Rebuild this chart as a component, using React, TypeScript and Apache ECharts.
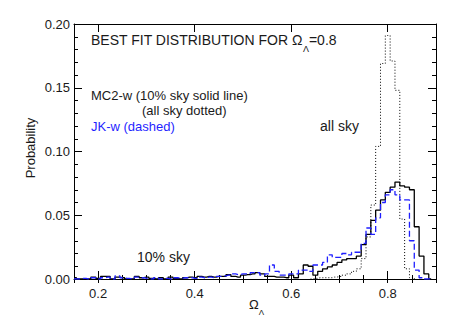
import React, { useEffect, useRef } from "react";
import * as echarts from "echarts";

// Bin centres of the histograms (step width 0.01)
const binStart = 0.15;
const binWidth = 0.01;

// MC2-w, 10% sky (solid), bins 0.15 ... 0.89
const mc2TenPct = [
  0.001, 0, 0, 0, 0.0015, 0.0005, 0.002, 0.002, 0, 0.0015,
  0.001, 0, 0, 0.002, 0.001, 0.0015, 0.0005, 0, 0.001, 0,
  0.0015, 0.0005, 0, 0.001, 0.0015, 0.001, 0.002, 0.0015, 0.002, 0.0015,
  0.002, 0.002, 0.0035, 0.002, 0.0015, 0.003, 0.0035, 0.004, 0.005, 0.004,
  0.002, 0.002, 0.0015, 0.0015, 0.001, 0.003, 0.001, 0.004, 0.011, 0.010,
  0.003, 0.006, 0.008, 0.0095, 0.011, 0.013, 0.015, 0.016, 0.016, 0.018,
  0.027, 0.035, 0.046, 0.054, 0.062, 0.068, 0.072, 0.076, 0.073, 0.072,
  0.070, 0.041, 0.018, 0.004, 0,
];

// JK-w (dashed), bins 0.15 ... 0.89
const jkDashed = [
  0, 0, 0.0005, 0, 0.001, 0, 0.001, 0.0015, 0, 0.0025,
  0.001, 0.0005, 0, 0.0015, 0.001, 0.0005, 0, 0.001, 0, 0.0005,
  0, 0.001, 0.0005, 0.001, 0.001, 0.0005, 0.0015, 0.001, 0.0015, 0.001,
  0.002, 0.0025, 0.003, 0.004, 0.0035, 0.004, 0.004, 0.005, 0.005, 0.003,
  0.004, 0.011, 0.006, 0.003, 0.003, 0.004, 0.004, 0.007, 0.007, 0.006,
  0.011, 0.011, 0.013, 0.019, 0.017, 0.017, 0.020, 0.019, 0.021, 0.021,
  0.028, 0.040, 0.035, 0.048, 0.060, 0.066, 0.070, 0.066, 0.062, 0.062,
  0.030, 0.007, 0.001, 0, 0,
];

// MC2-w, all sky (dotted), bins 0.64 ... 0.86
const allSkyStart = 0.64;
const mc2AllSky = [
  0, 0.0005, 0.001, 0.001, 0.001, 0.0015, 0.002, 0.003, 0.004, 0.006,
  0.008, 0.016, 0.033, 0.058, 0.104, 0.169, 0.191, 0.171, 0.148, 0.047,
  0.008, 0.001, 0,
];

const xMajorTicks = [0.2, 0.4, 0.6, 0.8];
const xRange = [0.15, 0.9];
const yRange = [0, 0.2];
const yInterval = 0.05;

const FONT = "Liberation Sans, Arial, sans-serif";
const INK = "#1a1a1a";

function toPairs(start: number, values: number[]) {
  return values.map((v, i) => [Math.round((start + i * binWidth) * 1000) / 1000, v]);
}

export default function App() {
  const ref = useRef<HTMLDivElement>(null);

  useEffect(() => {
    document.body.style.margin = "0";
    const chart = echarts.init(ref.current!, null, { renderer: "svg" });

    const axisLine = { show: true, onZero: false, lineStyle: { color: "#000", width: 1 } };
    const baseX = {
      type: "value",
      min: xRange[0],
      max: xRange[1],
      splitLine: { show: false },
      axisLine,
    };
    const baseY = {
      type: "value",
      min: yRange[0],
      max: yRange[1],
      interval: yInterval,
      splitLine: { show: false },
      axisLine,
      minorTick: { show: true, splitNumber: 5, length: 4, lineStyle: { color: "#000" } },
      minorSplitLine: { show: false },
      axisTick: { show: true, inside: true, length: 8, lineStyle: { color: "#000" } },
    };

    chart.setOption({
      animation: false,
      backgroundColor: "#fff",
      grid: { left: 74, top: 24, width: 362, height: 255, containLabel: false },
      xAxis: [
        {
          ...baseX,
          position: "bottom",
          axisTick: { show: true, inside: true, length: 8, customValues: xMajorTicks, lineStyle: { color: "#000" } },
          axisLabel: {
            show: true,
            customValues: xMajorTicks,
            formatter: (v: number) => v.toFixed(1),
            margin: 8,
            fontFamily: FONT,
            fontSize: 13,
            color: INK,
          },
        },
        {
          ...baseX,
          position: "bottom",
          interval: 0.05,
          axisLine: { show: false },
          axisTick: { show: true, inside: true, length: 4, lineStyle: { color: "#000" } },
          axisLabel: { show: false },
        },
        {
          ...baseX,
          position: "top",
          axisTick: { show: true, inside: true, length: 8, customValues: xMajorTicks, lineStyle: { color: "#000" } },
          axisLabel: { show: false },
        },
        {
          ...baseX,
          position: "top",
          interval: 0.05,
          axisLine: { show: false },
          axisTick: { show: true, inside: true, length: 4, lineStyle: { color: "#000" } },
          axisLabel: { show: false },
        },
      ],
      yAxis: [
        {
          ...baseY,
          position: "left",
          axisLabel: {
            show: true,
            formatter: (v: number) => v.toFixed(2),
            margin: 4,
            fontFamily: FONT,
            fontSize: 13,
            color: INK,
          },
        },
        {
          ...baseY,
          position: "right",
          axisLabel: { show: false },
        },
      ],
      series: [
        {
          type: "line",
          name: "MC2-w (10% sky)",
          step: "middle",
          symbol: "none",
          data: toPairs(binStart, mc2TenPct),
          lineStyle: { color: "#000", width: 1.3 },
          z: 3,
        },
        {
          type: "line",
          name: "MC2-w (all sky)",
          step: "middle",
          symbol: "none",
          data: toPairs(allSkyStart, mc2AllSky),
          lineStyle: { color: "#000", width: 1, type: [1, 2] },
          z: 2,
        },
        {
          type: "line",
          name: "JK-w",
          step: "middle",
          symbol: "none",
          data: toPairs(binStart, jkDashed),
          lineStyle: { color: "#1f1fff", width: 1.3, type: [6, 3] },
          z: 4,
        },
      ],
      graphic: [
        {
          type: "text",
          left: 91,
          top: 33,
          style: {
            text: "{n|BEST FIT DISTRIBUTION FOR Ω}{s|Λ}{n|=0.8}",
            rich: {
              n: { fontFamily: FONT, fontSize: 14, lineHeight: 26, verticalAlign: "middle", fill: INK },
              s: { fontFamily: FONT, fontSize: 9, lineHeight: 9, verticalAlign: "bottom", fill: INK },
            },
          },
        },
        {
          type: "text",
          left: 91,
          top: 89,
          style: { text: "MC2-w (10% sky solid line)", fontFamily: FONT, fontSize: 13, fill: INK },
        },
        {
          type: "text",
          left: 142,
          top: 104,
          style: { text: "(all sky dotted)", fontFamily: FONT, fontSize: 13, fill: INK },
        },
        {
          type: "text",
          left: 91,
          top: 120,
          style: { text: "JK-w (dashed)", fontFamily: FONT, fontSize: 13, fill: "#1f1fff" },
        },
        {
          type: "text",
          left: 320,
          top: 119,
          style: { text: "all sky", fontFamily: FONT, fontSize: 14, fill: INK },
        },
        {
          type: "text",
          left: 137,
          top: 250,
          style: { text: "10% sky", fontFamily: FONT, fontSize: 14, fill: INK },
        },
        {
          type: "text",
          x: 30,
          y: 148,
          rotation: Math.PI / 2,
          style: {
            text: "Probability",
            fontFamily: FONT,
            fontSize: 13,
            fill: INK,
            align: "center",
            verticalAlign: "middle",
          },
        },
        {
          type: "text",
          left: 249,
          top: 298,
          style: {
            text: "{n|Ω}{s|Λ}",
            rich: {
              n: { fontFamily: FONT, fontSize: 13, lineHeight: 24, verticalAlign: "middle", fill: INK },
              s: { fontFamily: FONT, fontSize: 8, lineHeight: 8, verticalAlign: "bottom", fill: INK },
            },
          },
        },
      ],
    });

    return () => chart.dispose();
  }, []);

  return <div ref={ref} style={{ width: 458, height: 327 }} />;
}
